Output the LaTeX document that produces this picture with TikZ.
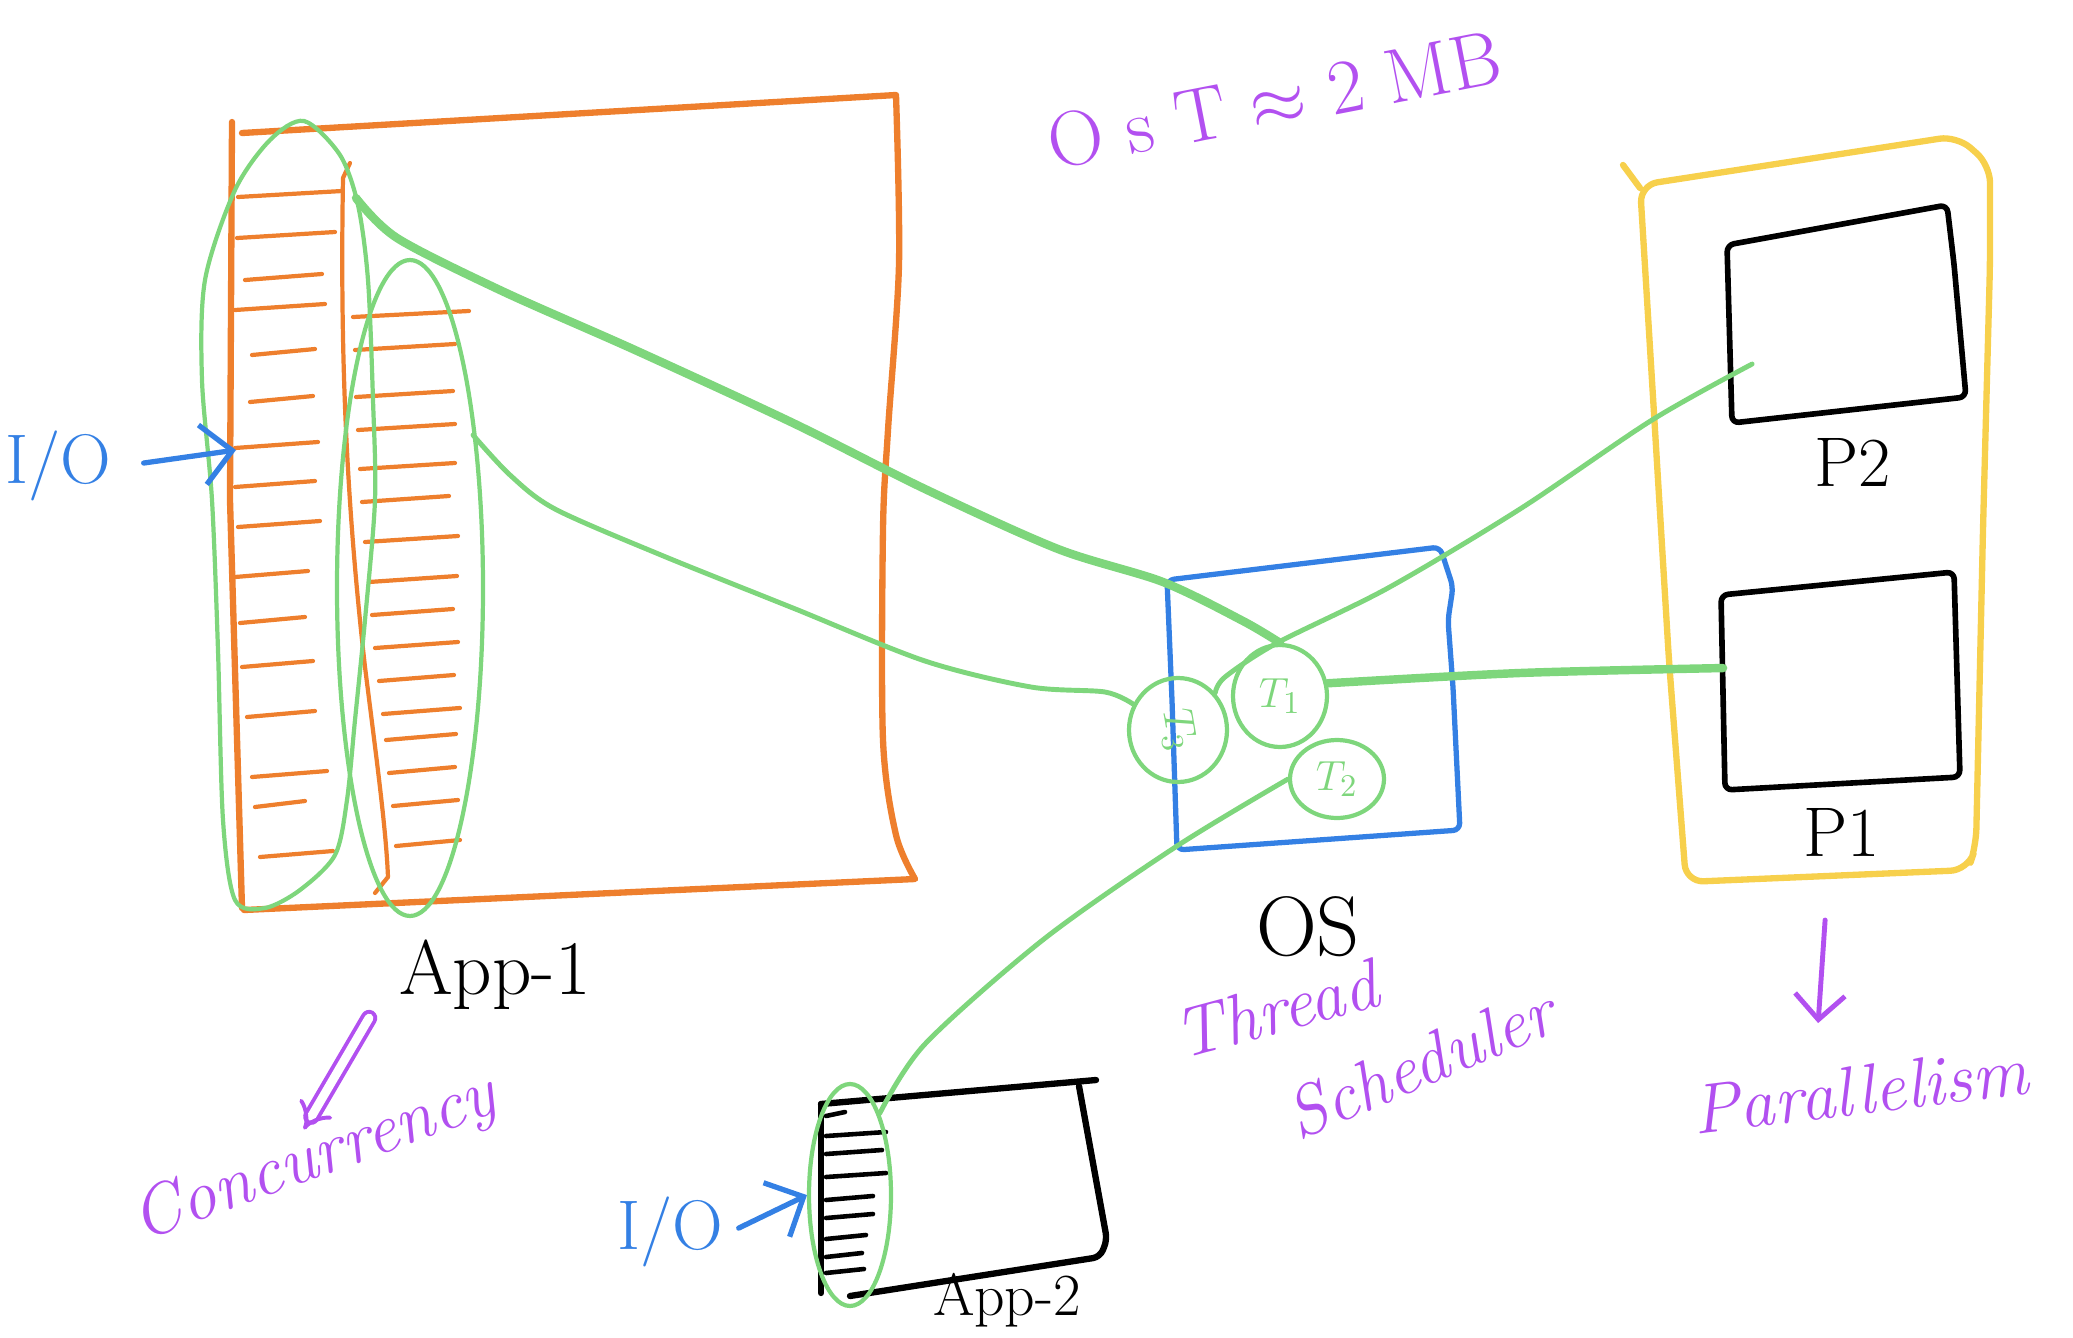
\documentclass[tikz,border=0pt]{standalone}
\usepackage{fontspec}
\usepackage{tikz}
\usetikzlibrary{arrows.meta,shapes.geometric}
\definecolor{penorange}{RGB}{238,127,45}
\definecolor{pengreen}{RGB}{126,214,124}
\definecolor{penblue}{RGB}{52,128,228}
\definecolor{penpurple}{RGB}{178,80,240}
\definecolor{penyellow}{RGB}{247,208,76}
\begin{document}
\begin{tikzpicture}[scale=0.1, line cap=round, line join=round,
  appbox/.style={draw=penorange, line width=1.8pt},
  stackline/.style={draw=penorange, line width=1.2pt},
  loopline/.style={draw=pengreen, line width=1.2pt},
  link/.style={draw=pengreen, line width=1.4pt},
  heavylink/.style={draw=pengreen, line width=2.4pt},
  osbox/.style={draw=penblue, line width=1.5pt, rounded corners=2pt},
  corebox/.style={draw=black, line width=1.6pt, rounded corners=2pt},
  cpubox/.style={draw=penyellow, line width=1.8pt, rounded corners=5pt},
  thread/.style={ellipse, draw=pengreen, line width=1.2pt, text=pengreen, font=\fontsize{13}{13}\selectfont},
  note/.style={text=penpurple, font=\fontsize{20}{22}\selectfont\itshape},
  tag/.style={text=black, font=\fontsize{22}{24}\selectfont},
  iotag/.style={text=penblue, font=\fontsize{20}{22}\selectfont},
  ioarrow/.style={draw=penblue, line width=1.5pt, -{Straight Barb[length=3mm,width=6mm]}},
  penarrow/.style={draw=penpurple, line width=1.4pt, -{Straight Barb[length=2.5mm,width=5mm]}},
  dblarrow/.style={draw=penpurple, line width=1.1pt, double=white, double distance=2.5pt, -{Implies}},
]
\tikzstyle{every node}+=[inner sep=0pt]
\useasboundingbox (0,0) rectangle (207.3,-133.8);
\node[note, rotate=11, font=\fontsize{22}{24}\selectfont] (osnote) at (127.4,-10.0) {O s T $\approx$ 2 MB};
% App-1
\draw[appbox] (23.2,-12.2) -- (23.0,-50.0) -- (24.2,-90.8);
\draw[appbox] (24.2,-13.3) -- (89.6,-9.5) plot[smooth] coordinates {(89.6,-9.5) (89.9,-26.4) (88.8,-43) (88.3,-52.9) (88.3,-74.0) (89.6,-83.5) (91.5,-87.9)} -- (24.4,-91.0);
\foreach \y/\a/\b in {19.7/23.8/34.2, 23.8/23.7/33.5, 28.0/24.5/32.2, 31.0/23.5/32.5, 35.5/25.2/31.5, 40.2/25.0/31.3,
  44.8/23.5/31.8, 48.7/23.5/31.5, 52.7/23.8/32.0, 57.7/23.5/30.8, 62.3/24.0/30.5, 66.7/24.2/31.3,
  71.7/24.7/31.5, 77.7/25.2/32.7, 80.7/25.5/30.5, 85.7/26.0/33.3}
  \draw[stackline] (\a,-\y) -- (\b,-\y+0.6);
\draw[stackline] (35.0,-16.3) -- (34.3,-17.8) .. controls (34.0,-35) and (34.6,-50) .. (36.5,-66.7) .. controls (37.8,-77) and (38.6,-83) .. (38.8,-87.7) -- (37.5,-89.3);
\foreach \y/\a/\b in {31.7/35.3/46.9, 35.0/35.5/45.5, 39.7/35.6/45.3, 43.0/35.8/45.5, 46.9/36.0/45.5, 50.2/36.2/44.9,
  54.2/36.5/45.8, 58.2/36.9/45.7, 61.5/37.2/45.3, 64.8/37.5/45.8, 68.1/37.9/45.4, 71.4/38.3/46.0,
  74.0/38.6/45.6, 77.3/38.9/45.5, 80.6/39.3/45.8, 84.6/39.6/46.0}
  \draw[stackline] (\a,-\y) -- (\b,-\y+0.6);
\draw[loopline] plot[smooth cycle] coordinates {(30.4,-12.1) (34.0,-15.5) (35.8,-20.5) (36.8,-28) (37.3,-40) (37.5,-50)
  (36.5,-62) (35.5,-72) (34.7,-80) (33.5,-85.5) (30,-89) (26.5,-90.8) (23.5,-90) (22.3,-82) (21.8,-65)
  (21.2,-50) (20.2,-38) (20.5,-28) (23.5,-19) (27,-14)};
\coordinate (lA) at (35.6,-19.8);
\node[ellipse, loopline, minimum width=1.46cm, minimum height=6.56cm] (loopB) at (41.0,-58.8) {};
\coordinate (lB) at (47.3,-43.5);
\node[tag] (app1) at (49.5,-97.5) {App-1};
\node[iotag] (io1) at (5.8,-46.6) {I/O};
\coordinate (ioA) at (23.6,-45.0);
\draw[ioarrow] (io1.east) ++(3.2,0.3) -- (ioA);
\node[note, rotate=20] (conc) at (31.5,-116.0) {Concurrency};
\coordinate (concA) at (36.9,-101.8);
\draw[dblarrow] (concA) -- (conc.north);
% OS
\draw[osbox] (116.7,-58.0) -- (144.0,-54.7) -- (145.3,-58.7) -- (144.8,-62.0) -- (145.3,-68.7) -- (146.0,-83.0) -- (117.7,-85.0) -- (117.2,-70.0) -- cycle;
\node[thread, minimum width=0.98cm, minimum height=1.04cm] (t3) at (117.8,-73.0) {\rotatebox{-80}{$T_3$}};
\node[thread, minimum width=0.94cm, minimum height=1.02cm] (t1) at (128.0,-69.6) {$T_1$};
\node[thread, minimum width=0.94cm, minimum height=0.78cm] (t2) at (133.7,-77.9) {$T_2$};
\node[tag, font=\fontsize{24}{26}\selectfont] (osl) at (130.8,-92.7) {OS};
\node[note, rotate=15] (thr) at (127.6,-100.9) {Thread};
\node[note, rotate=23] (sched) at (142.0,-106.3) {Scheduler};
% cores
\draw[cpubox] (162.3,-16.5) -- (164.0,-18.8);
\draw[cpubox] (164.0,-18.5) -- (195.7,-13.6) -- (199.0,-16.5) -- (199.0,-26.4) -- (198.3,-52.9) -- (197.6,-84.6) -- (196.8,-87.0) -- (168.6,-88.2) -- (166.9,-66.1) -- (165.3,-39.7) -- cycle;
\draw[corebox] (172.7,-24.5) -- (194.7,-20.5) -- (195.4,-26.4) -- (196.6,-39.7) -- (173.2,-42.3) -- cycle;
\draw[corebox] (172.1,-59.5) -- (195.4,-57.2) -- (196.0,-77.7) -- (172.5,-79.0) -- cycle;
\node[tag, font=\fontsize{20}{22}\selectfont] (p2l) at (185.3,-46.2) {P2};
\node[tag, font=\fontsize{20}{22}\selectfont] (p1l) at (184.2,-83.2) {P1};
\coordinate (p2in) at (175.2,-36.4);
\coordinate (p1in) at (172.3,-66.8);
\coordinate (paraA) at (182.5,-92.0);
\coordinate (paraB) at (181.8,-102.3);
\node[note, rotate=7] (para) at (186.0,-109.0) {Parallelism};
\draw[penarrow] (paraA) -- (paraB);
% App-2
\draw[corebox, line width=1.8pt] (82.1,-110.4) -- (109.6,-108.0);
\draw[corebox, line width=1.8pt] (107.9,-108.6) -- (110.7,-124.0) -- (110.0,-125.7) -- (85.0,-129.6);
\draw[corebox, line width=1.8pt] (82.1,-110.4) -- (82.1,-129.3);
\foreach \y/\b in {111.6/84.5, 113.6/88.6, 115.4/88.2, 117.7/88.6, 120.0/87.3, 121.8/87.3, 123.9/86.6, 125.7/86.2, 127.3/86.4}
  \draw[corebox, line width=1.3pt] (82.6,-\y) -- (\b,-\y+0.4);
\node[ellipse, loopline, minimum width=0.82cm, minimum height=2.22cm] (loopC) at (85.0,-119.5) {};
\node[tag, font=\fontsize{17}{19}\selectfont] (app2) at (100.7,-130.0) {App-2};
\node[iotag] (io2) at (67.0,-123.2) {I/O};
\draw[ioarrow] (io2.east) ++(1.5,0.4) -- (loopC.west);
% threads to cores
\draw[heavylink] plot[smooth] coordinates {(lA) (39.7,-23.8) (50.2,-29.1) (63.5,-35.0) (79.3,-42.3) (92.5,-48.9) (105.8,-54.9) (116.3,-58.2) (124.3,-62.1) (t1.north)};
\draw[link] plot[smooth] coordinates {(lB) (51.0,-47.5) (55.5,-50.9) (66.1,-55.5) (79.3,-60.8) (92.5,-66.1) (103.1,-68.7) (110.5,-69.2) (t3.150)};
\draw[heavylink] plot[smooth] coordinates {(t1.15) (152.0,-67.3) (p1in)};
\draw[link] plot[smooth] coordinates {(p2in) (165.2,-42.0) (152.0,-50.9) (138.8,-58.8) (127.7,-64.3) (122.5,-67.7) (t3.45)};
\draw[link] plot[smooth] coordinates {(t2.west) (117.7,-84.6) (104.4,-93.9) (92.5,-104.4) (loopC.70)};
\end{tikzpicture}
\end{document}
